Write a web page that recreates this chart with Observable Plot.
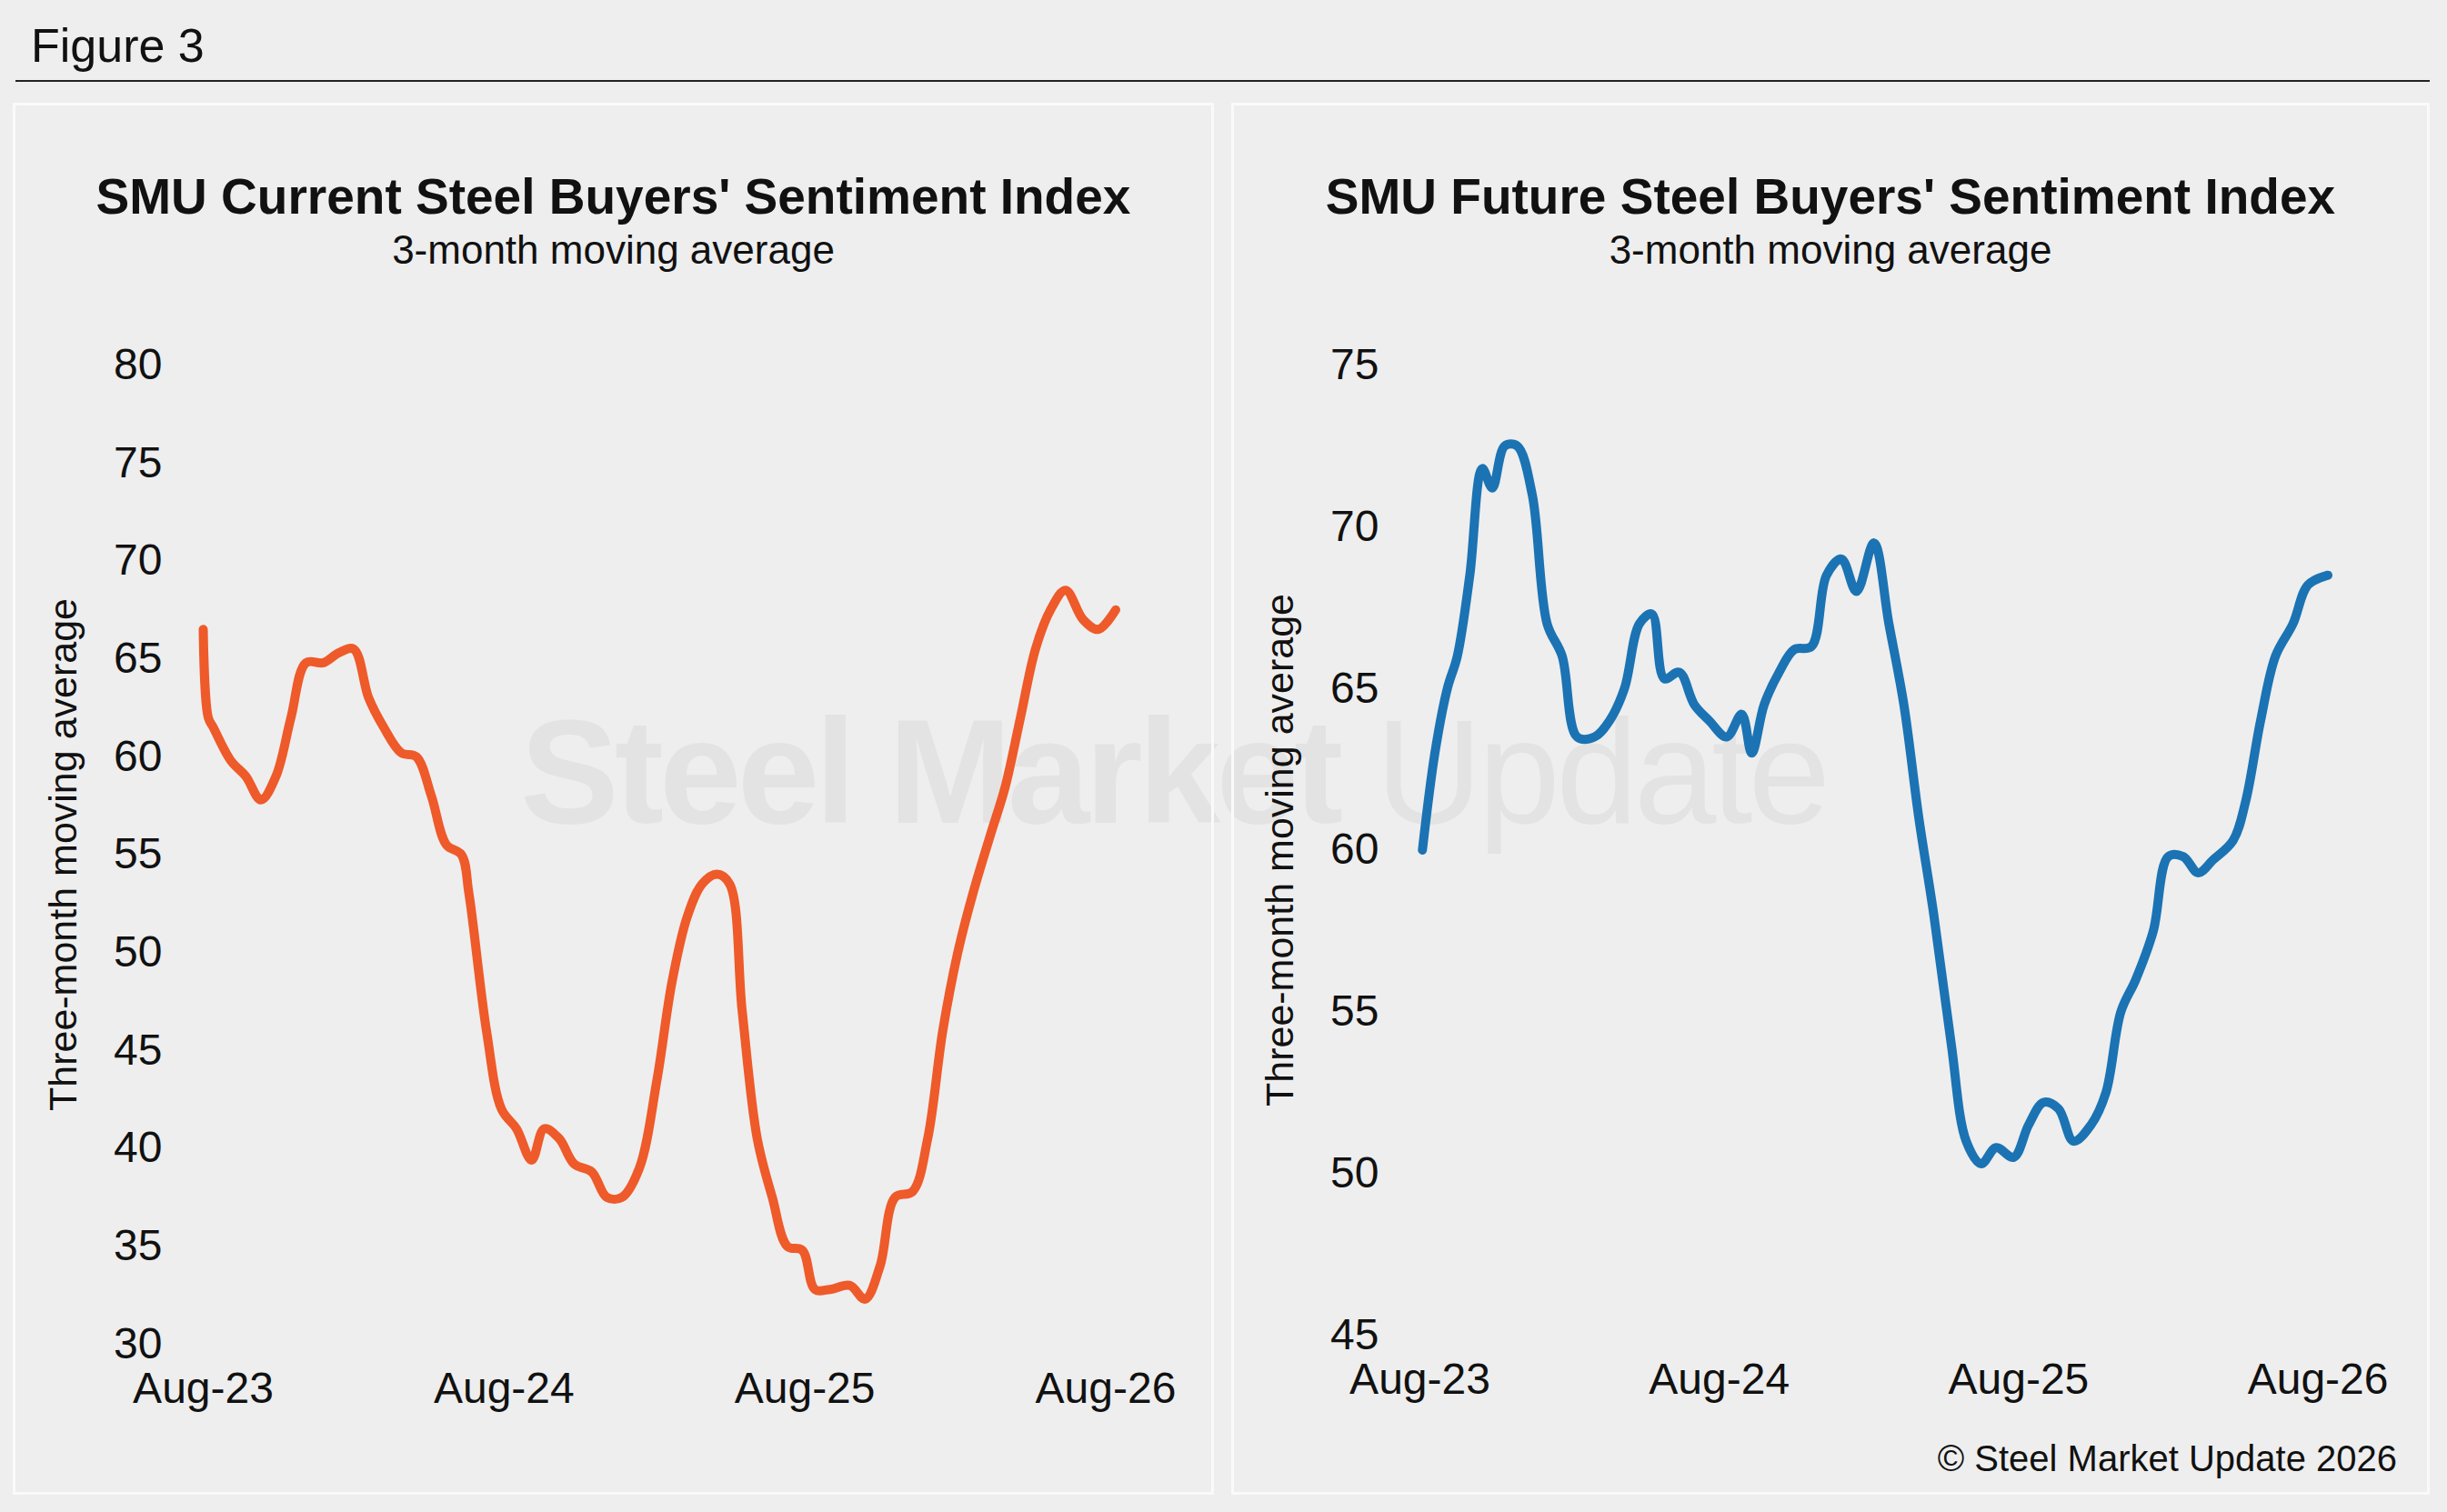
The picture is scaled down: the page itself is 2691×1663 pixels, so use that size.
<!DOCTYPE html>
<html><head><meta charset="utf-8">
<script src="https://cdn.jsdelivr.net/npm/d3@7"></script>
<script src="https://cdn.jsdelivr.net/npm/@observablehq/plot@0.6"></script>
<style>
body{margin:0;background:#eeeeee;font-family:"Liberation Sans",Arial,sans-serif;}
#wrap{position:relative;width:2691px;height:1663px;background:#eeeeee;overflow:hidden}
#fig{position:absolute;left:34px;top:20px;font-size:52px;color:#111}
#rule{position:absolute;left:17px;top:88px;width:2655px;height:2px;background:#222}
.panel{position:absolute;top:113px;height:1531px;border:3px solid #fafafa;box-sizing:border-box}
.hdr{position:absolute;left:0;top:0;width:100%;height:200px;text-align:center}
.t{font-weight:bold;font-size:55px;margin-top:68px;color:#111}
.s{font-size:44px;margin-top:2px;color:#111}
.panel svg{position:absolute;left:0;top:200px;}
#wm{position:absolute;left:572px;top:755px;font-size:163px;font-weight:bold;color:rgba(0,0,0,0.045);letter-spacing:-5px;white-space:nowrap}
#copy{position:absolute;right:55px;top:1582px;font-size:40px;color:#111}
</style></head><body>
<div id="wrap">
<div id="fig">Figure 3</div><div id="rule"></div>
<div id="wm">Steel Market <span style="font-weight:normal">Update</span></div>
<div class="panel" id="p1" style="left:14px;width:1321px"><div class="hdr"><div class="t">SMU Current Steel Buyers' Sentiment Index</div><div class="s">3-month moving average</div></div></div>
<div class="panel" id="p2" style="left:1354px;width:1318px"><div class="hdr"><div class="t">SMU Future Steel Buyers' Sentiment Index</div><div class="s">3-month moving average</div></div></div>
<div id="copy">© Steel Market Update 2026</div>
</div>
<script>
const tickMonths=[0,12,24,36];
const tickLabels=["Aug-23","Aug-24","Aug-25","Aug-26"];
const curMonths=[0,0.2,0.4,1.1,1.7,2.3,2.9,3.5,4.1,4.8,5.4,6.0,6.6,7.2,7.9,8.5,9.1,9.7,10.3,10.6,11.3,11.9,12.5,13.1,13.6,14.2,14.8,15.5,16.1,16.7,17.4,18.1,18.7,19.3,19.9,20.5,21.0,21.5,22.1,22.7,23.3,23.9,24.4,25.0,25.8,26.4,27.0,27.6,28.3,28.9,29.5,30.1,30.7,31.4,32.0,32.6,33.2,33.8,34.4,35.1,35.7,36.4];
const curValues=[66.5,62,61.5,59.8,59,57.8,59,62,64.8,64.8,65.3,65.5,63,61.5,60.2,60,58,55.5,55,53,46,42,41,39.4,41,40.5,39.2,38.8,37.5,37.5,39,43.5,48.5,51.8,53.5,54,53.5,47,40.5,37.5,35,34.8,32.8,32.8,33,32.3,34,37.5,37.8,40.5,46,50,53,56,58.5,62,65.5,67.5,68.5,67,66.5,67.5];
const futMonths=[0.1,0.6,1.1,1.5,2.0,2.5,2.9,3.4,3.9,4.5,5.1,5.7,6.3,7.0,7.6,8.2,8.8,9.3,9.8,10.4,11.0,11.6,12.3,12.9,13.3,13.8,14.4,15.0,15.7,16.3,16.9,17.5,18.2,18.8,19.4,20.0,20.6,21.3,21.9,22.5,23.1,23.8,24.4,25.0,25.6,26.2,26.9,27.5,28.1,28.7,29.4,30.0,30.6,31.2,31.8,32.6,33.1,33.7,34.3,35.0,35.6,36.4];
const futValues=[60,63,65,66,68.5,71.8,71.2,72.5,72.5,71,67,66,63.5,63.5,64,65,67,67.3,65.3,65.5,64.5,64,63.5,64.2,63,64.5,65.5,66.2,66.3,68.5,69,68,69.5,67,64.5,61,58,54,51,50.3,50.8,50.5,51.5,52.2,52,51,51.5,52.5,55,56,57.5,59.8,59.8,59.3,59.7,60.3,61.5,64,66,67,68.2,68.5];

function chart(months,values,yDomain,yTicks,color,w,ml,mr,mb){
  const data=months.map((m,i)=>({m,v:values[i]}));
  return Plot.plot({
    width:w,height:1325,marginTop:85,marginLeft:ml,marginRight:mr,marginBottom:mb,
    style:{fontFamily:"Liberation Sans, Arial, sans-serif",fontSize:"48px",color:"#111",background:"transparent",overflow:"visible"},
    x:{domain:[0,37],ticks:tickMonths,tickFormat:(d)=>tickLabels[tickMonths.indexOf(d)],tickSize:0,tickPadding:30,label:null},
    y:{domain:yDomain,ticks:yTicks,tickSize:0,tickPadding:45,label:"Three-month moving average",labelAnchor:"center",labelArrow:"none",labelOffset:170},
    marks:[
      Plot.line(data,{x:"m",y:"v",stroke:color,strokeWidth:10,curve:"catmull-rom"})
    ]
  });
}
const c1=chart(curMonths,curValues,[30,80],d3.range(30,81,5),"#ee5a2a",1315,206,89,163);
c1.querySelectorAll("g[aria-label='y-axis label'] text").forEach(t=>t.style.fontSize="43px");
document.getElementById("p1").appendChild(c1);
const c2=chart(futMonths,futValues,[45,75],d3.range(45,76,5),"#1b73b3",1312,204,93,173);
c2.querySelectorAll("g[aria-label='y-axis label'] text").forEach(t=>t.style.fontSize="43px");
document.getElementById("p2").appendChild(c2);
</script>
</body></html>
